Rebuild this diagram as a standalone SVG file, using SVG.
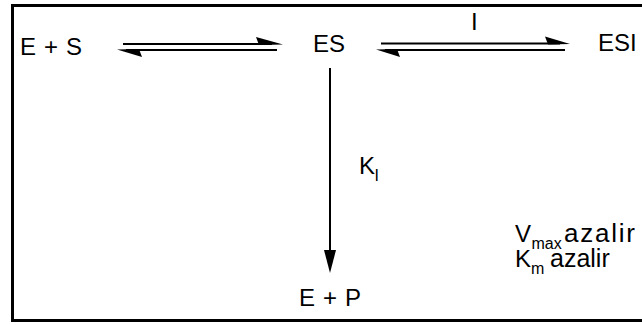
<svg xmlns="http://www.w3.org/2000/svg" width="642" height="325" viewBox="0 0 642 325">
<style>
.t{font-family:"Liberation Sans",Arial,sans-serif;font-size:24px;fill:#000}
.s{font-family:"Liberation Sans",Arial,sans-serif;font-size:16px;fill:#000}
.n{font-family:"Liberation Sans",Arial,sans-serif;font-size:25px;fill:#000}
.ln{stroke:#000;stroke-width:2;fill:none}
.hd{fill:#000;stroke:none}
</style>
<rect x="0" y="0" width="642" height="325" fill="#fff"/>
<rect x="12.5" y="5.5" width="650" height="315" fill="none" stroke="#000" stroke-width="3"/>
<g id="nodeES_left"><text class="t" x="20" y="55" textLength="62" lengthAdjust="spacing">E + S</text></g>
<g id="nodeES"><text class="t" x="313" y="51.5">ES</text></g>
<g id="nodeESI"><text class="t" x="598" y="50.5">ESI</text></g>
<g id="nodeEP"><text class="t" x="299" y="306" textLength="62" lengthAdjust="spacing">E + P</text></g>
<g id="labelI"><text class="t" x="471" y="30">I</text></g>
<g id="labelKI"><text class="t" x="359" y="174">K</text><text class="s" x="374.5" y="181">I</text></g>
<g id="notes">
<text class="t" x="515" y="242">V</text><text class="s" x="531.5" y="249">max</text><text class="n" x="564" y="242" style="font-size:26px" textLength="71" lengthAdjust="spacing">azalir</text>
<text class="t" x="515" y="267">K</text><text class="s" x="531" y="274">m</text><text class="n" x="550" y="267">azalir</text>
</g>
<g id="connectors">
<line class="ln" x1="123" y1="44" x2="272" y2="44"/>
<polygon class="hd" points="256,37 283,44.5 259,45"/>
<line class="ln" x1="126" y1="50" x2="277" y2="50"/>
<polygon class="hd" points="117,49.5 142,57 139,49"/>
<line class="ln" x1="381" y1="43.5" x2="560" y2="43.5"/>
<polygon class="hd" points="545,36.5 570,44 548,44.5"/>
<line class="ln" x1="385" y1="50" x2="565" y2="50"/>
<polygon class="hd" points="376,49.5 400,57 397,49"/>
<line class="ln" x1="330" y1="68" x2="330" y2="255"/>
<polygon class="hd" points="324,250 336,250 330,273"/>
</g>
</svg>
